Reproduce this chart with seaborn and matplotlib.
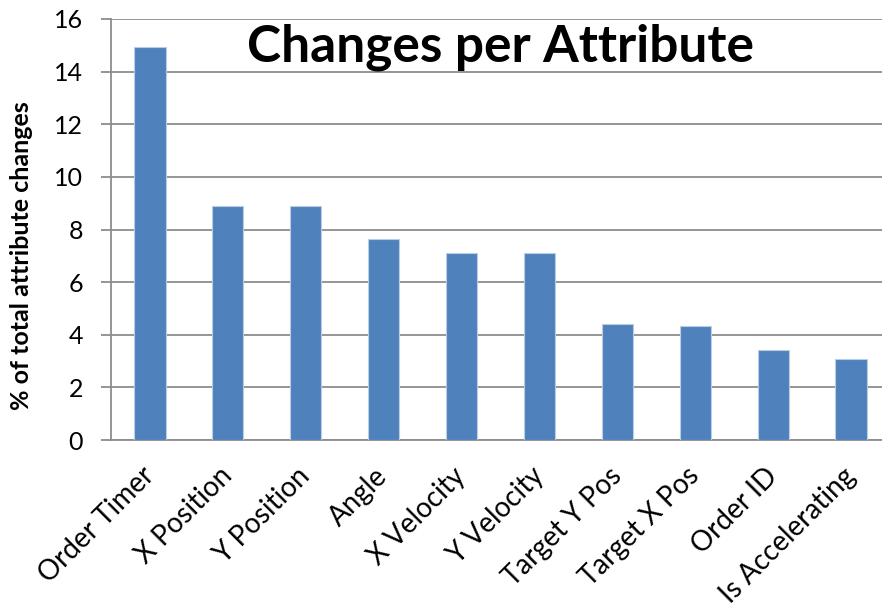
import matplotlib
matplotlib.use("Agg")
import matplotlib.pyplot as plt
import seaborn as sns
import pandas as pd
from matplotlib.ticker import FixedLocator

categories = ["Order Timer", "X Position", "Y Position", "Angle", "X Velocity",
              "Y Velocity", "Target Y Pos", "Target X Pos", "Order ID", "Is Accelerating"]
values = [14.92, 8.91, 8.88, 7.64, 7.11, 7.10, 4.41, 4.33, 3.43, 3.07]
y_ticks = [0, 2, 4, 6, 8, 10, 12, 14, 16]

sns.set_style("white")
plt.rcParams['font.family'] = ['Lato', 'DejaVu Sans']
plt.rcParams['text.color'] = 'black'
plt.rcParams['xtick.color'] = 'black'
plt.rcParams['ytick.color'] = 'black'

df = pd.DataFrame({"cat": categories, "val": values})

fig = plt.figure(figsize=(8.82, 6.14), dpi=100)
ax = fig.add_axes([111/882, 174/614, (890-111)/882, (440-19)/614])
sns.barplot(data=df, x="cat", y="val", color="#4F81BD", width=0.4,
            edgecolor="#B9CDE5", linewidth=0.8, ax=ax, zorder=3, saturation=1)

ax.set_ylim(0, 16)
ax.set_xlim(-0.5, len(categories) - 0.5)
ax.set_yticks(y_ticks)
ax.set_yticklabels([str(t) for t in y_ticks], fontsize=18)
ax.grid(axis="y", color="#8C8C8C", linewidth=1.3, zorder=0)
ax.set_axisbelow(True)

ax.set_xticks(range(len(categories)))
ax.set_xticklabels(categories, rotation=45, ha="right", va="center",
                   rotation_mode="anchor", fontsize=20)
ax.tick_params(axis="x", which="major", length=0, pad=23)
ax.xaxis.set_minor_locator(FixedLocator([i - 0.5 for i in range(len(categories) + 1)]))
ax.tick_params(axis="x", which="minor", length=7, width=1.3, color="#8C8C8C", direction="out")
ax.tick_params(axis="y", length=7, width=1.3, color="#8C8C8C", labelcolor="black",
               direction="out", left=True, pad=13)

for s in ["top", "right"]:
    ax.spines[s].set_visible(False)
for s in ["left", "bottom"]:
    ax.spines[s].set_color("#8C8C8C")
    ax.spines[s].set_linewidth(1.3)

ax.set_xlabel("")
ax.set_ylabel("")
fig.text(22/882, 1 - 256/614, "% of total attribute changes", fontsize=18,
         fontweight="bold", rotation=90, ha="center", va="center", color="black")
ax.text(0.5, 0.933, "Changes per Attribute", transform=ax.transAxes,
        fontsize=37, fontweight="bold", ha="center", va="center", color="black")

fig.savefig("out.png", dpi=100)
